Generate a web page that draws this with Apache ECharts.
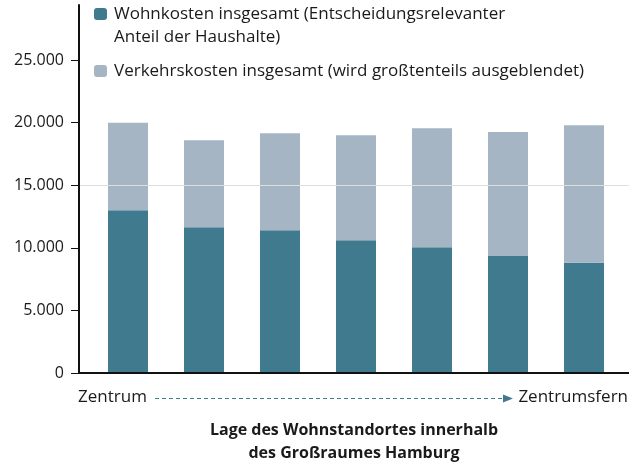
<!DOCTYPE html>
<html>
<head>
<meta charset="utf-8">
<script src="https://cdn.jsdelivr.net/npm/echarts@6/dist/echarts.min.js"></script>
<style>
  html, body { margin: 0; padding: 0; background: #fff; }
  #chart { width: 629px; height: 465px; }
</style>
</head>
<body>
<div id="chart"></div>
<script>
// Lage von Zentrum (links) nach zentrumsfern (rechts)
const zones = ['Zone 1', 'Zone 2', 'Zone 3', 'Zone 4', 'Zone 5', 'Zone 6', 'Zone 7']
const wohnkosten = [13000, 11650, 11400, 10600, 10050, 9350, 8800]
const verkehrskosten = [7000, 6950, 7750, 8400, 9500, 9900, 11000]
const yTicks = [0, 5000, 10000, 15000, 20000, 25000]

const nameWohn = 'Wohnkosten insgesamt (Entscheidungsrelevanter\nAnteil der Haushalte)'
const nameVerkehr = 'Verkehrskosten insgesamt (wird großtenteils ausgeblendet)'
const axisTitle = 'Lage des Wohnstandortes innerhalb\ndes Großraumes Hamburg'

const FONT = '"Open Sans", "Noto Sans", sans-serif'
const TEXT = '#1a1a1a'
const TEAL = '#3f7a8e'
const GREY = '#a5b5c3'
const Y_MAX = 29400

const fmt = v => String(v).replace(/\B(?=(\d{3})+(?!\d))/g, '.')

const chart = echarts.init(document.getElementById('chart'))

chart.setOption({
  animation: false,
  textStyle: { fontFamily: FONT },
  legend: {
    orient: 'vertical',
    left: 94,
    top: -20.5,
    padding: 0,
    itemGap: 11,
    itemWidth: 13,
    itemHeight: 12,
    selectedMode: false,
    // leere erste Zeile, damit das Kästchen auf Höhe der ersten Textzeile steht
    formatter: name => (name === nameWohn ? '\n' + name : name),
    textStyle: { fontSize: 17, lineHeight: 23, color: TEXT, fontFamily: FONT, padding: [0, 0, 0, 2] },
    data: [nameWohn, nameVerkehr]
  },
  grid: [
    { left: 90, right: 7, top: 5, bottom: 92, outerBoundsMode: 'none' },
    { left: 79, right: 0, top: 5, bottom: 92, outerBoundsMode: 'none' }
  ],
  xAxis: [
    { gridIndex: 0, type: 'category', data: zones, show: false },
    {
      gridIndex: 1,
      type: 'value',
      min: 0,
      max: 1,
      z: 5,
      axisLine: { show: true, lineStyle: { color: '#111', width: 2 } },
      axisTick: { show: false },
      axisLabel: { show: false },
      splitLine: { show: false },
      name: axisTitle,
      nameLocation: 'middle',
      nameGap: 46,
      nameTextStyle: {
        fontSize: 16,
        fontWeight: 'bold',
        lineHeight: 23,
        color: TEXT,
        fontFamily: FONT
      }
    }
  ],
  yAxis: [
    { gridIndex: 0, type: 'value', min: 0, max: Y_MAX, show: false },
    {
      gridIndex: 1,
      type: 'value',
      min: 0,
      max: Y_MAX,
      interval: 5000,
      z: 5,
      axisLine: { show: true, lineStyle: { color: '#111', width: 2 } },
      axisTick: {
        show: true,
        length: 8,
        customValues: yTicks,
        lineStyle: { color: '#111', width: 1 }
      },
      axisLabel: {
        customValues: yTicks,
        margin: 15,
        fontSize: 16,
        color: TEXT,
        fontFamily: FONT,
        formatter: v => fmt(v)
      },
      splitLine: {
        show: true,
        lineStyle: {
          // nur die Linie bei 15.000 ist sichtbar
          color: ['rgba(0,0,0,0)', 'rgba(0,0,0,0)', 'rgba(0,0,0,0)', '#dedede',
                  'rgba(0,0,0,0)', 'rgba(0,0,0,0)', 'rgba(0,0,0,0)'],
          width: 1
        }
      }
    }
  ],
  series: [
    {
      name: nameWohn,
      type: 'bar',
      stack: 'kosten',
      xAxisIndex: 0,
      yAxisIndex: 0,
      barWidth: 40,
      data: wohnkosten,
      itemStyle: { color: TEAL }
    },
    {
      name: nameVerkehr,
      type: 'bar',
      stack: 'kosten',
      xAxisIndex: 0,
      yAxisIndex: 0,
      barWidth: 40,
      data: verkehrskosten,
      itemStyle: { color: GREY }
    }
  ],
  graphic: [
    {
      type: 'text',
      left: 78,
      top: 389,
      style: { text: 'Zentrum', font: '17px ' + FONT, fill: TEXT }
    },
    {
      type: 'line',
      shape: { x1: 155, y1: 398.5, x2: 505, y2: 398.5 },
      style: { stroke: TEAL, lineWidth: 1.2, lineDash: [4, 3] }
    },
    {
      type: 'polygon',
      shape: { points: [[503, 394.5], [513, 398.5], [503, 402.5]] },
      style: { fill: TEAL }
    },
    {
      type: 'text',
      right: 1,
      top: 389,
      style: { text: 'Zentrumsfern', font: '17px ' + FONT, fill: TEXT }
    }
  ]
})
</script>
</body>
</html>
